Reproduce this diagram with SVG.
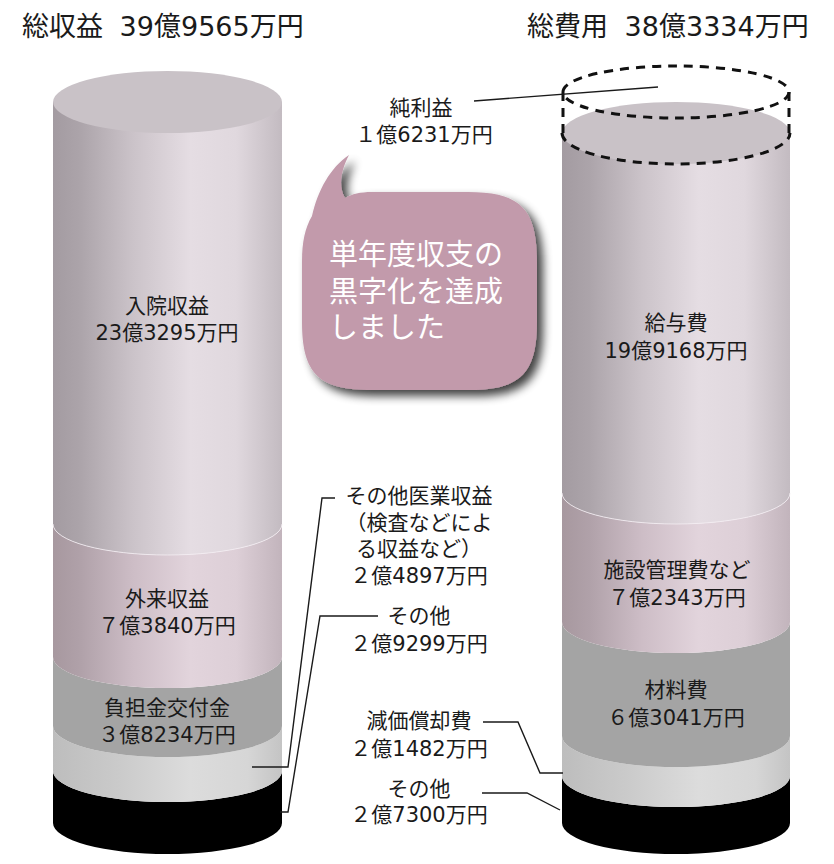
<svg xmlns="http://www.w3.org/2000/svg" width="834" height="864" viewBox="0 0 834 864">
<defs>
<style>
text{font-family:"DejaVu Sans","Noto Sans CJK JP",sans-serif;fill:#1a1a1a}
.t{font-size:27px}
.l{font-size:21px;text-anchor:middle}
.b{font-size:29px;fill:#ffffff;font-family:"Noto Sans CJK JP",sans-serif}
.lead{fill:none;stroke:#1a1a1a;stroke-width:1.4}
.dash{fill:none;stroke:#111;stroke-width:3;stroke-dasharray:9 7}
</style>
<linearGradient id="gA" x1="0" x2="1" y1="0" y2="0">
<stop offset="0" stop-color="#a39ba1"/><stop offset="0.12" stop-color="#aca4aa"/><stop offset="0.35" stop-color="#cbc3c9"/><stop offset="0.6" stop-color="#e5dde3"/><stop offset="0.8" stop-color="#e0d8de"/><stop offset="1" stop-color="#c3bbc1"/>
</linearGradient>
<linearGradient id="gB" x1="0" x2="1" y1="0" y2="0">
<stop offset="0" stop-color="#a7989f"/><stop offset="0.12" stop-color="#b0a1a9"/><stop offset="0.35" stop-color="#cdbdc6"/><stop offset="0.6" stop-color="#e2d4dc"/><stop offset="0.8" stop-color="#ddcfd7"/><stop offset="1" stop-color="#c2b4bc"/>
</linearGradient>
<linearGradient id="gL" x1="0" x2="1" y1="0" y2="0">
<stop offset="0" stop-color="#bdbdbd"/><stop offset="0.3" stop-color="#cbcbcb"/><stop offset="0.6" stop-color="#dcdcdc"/><stop offset="0.85" stop-color="#d6d6d6"/><stop offset="1" stop-color="#c4c4c4"/>
</linearGradient>
<filter id="sh" x="-20%" y="-20%" width="150%" height="150%">
<feGaussianBlur in="SourceAlpha" stdDeviation="5"/>
<feOffset dx="6" dy="6" result="o"/>
<feComponentTransfer><feFuncA type="linear" slope="0.75"/></feComponentTransfer>
<feMerge><feMergeNode/><feMergeNode in="SourceGraphic"/></feMerge>
</filter>
</defs>
<rect width="834" height="864" fill="#ffffff"/>

<text class="t" x="22" y="36">総収益 <tspan dx="8">39億9565万円</tspan></text>
<text class="t" x="527" y="36">総費用 <tspan dx="8">38億3334万円</tspan></text>

<g id="left-cylinder">
<path d="M53,771 A114.5,31 0 0 0 282,771 L282,823 A114.5,31 0 0 1 53,823 Z" fill="#000"/>
<path d="M53,726 A114.5,31 0 0 0 282,726 L282,771 A114.5,31 0 0 1 53,771 Z" fill="url(#gL)"/>
<path d="M53,657 A114.5,31 0 0 0 282,657 L282,726 A114.5,31 0 0 1 53,726 Z" fill="#a4a4a4"/>
<path d="M53,524 A114.5,31 0 0 0 282,524 L282,657 A114.5,31 0 0 1 53,657 Z" fill="url(#gB)"/>
<path d="M53,102 L282,102 L282,524 A114.5,31 0 0 1 53,524 Z" fill="url(#gA)"/>
<path d="M53,524 A114.5,31 0 0 0 282,524" fill="none" stroke="#f4eef2" stroke-width="1" opacity="0.8"/>
<ellipse cx="167.5" cy="102" rx="114.5" ry="31" fill="#c9c2c7"/>
</g>

<g id="right-cylinder">
<path d="M562,776 A114,31 0 0 0 790,776 L790,823 A114,31 0 0 1 562,823 Z" fill="#000"/>
<path d="M562,736 A114,31 0 0 0 790,736 L790,776 A114,31 0 0 1 562,776 Z" fill="url(#gL)"/>
<path d="M562,622 A114,31 0 0 0 790,622 L790,736 A114,31 0 0 1 562,736 Z" fill="#a4a4a4"/>
<path d="M562,493 A114,31 0 0 0 790,493 L790,622 A114,31 0 0 1 562,622 Z" fill="url(#gB)"/>
<path d="M562,133 L790,133 L790,493 A114,31 0 0 1 562,493 Z" fill="url(#gA)"/>
<path d="M562,493 A114,31 0 0 0 790,493" fill="none" stroke="#f4eef2" stroke-width="1" opacity="0.8"/>
<ellipse cx="676" cy="133" rx="114" ry="31" fill="#c9c2c7"/>
</g>

<g id="net-profit-outline">
<ellipse class="dash" cx="676" cy="92" rx="113" ry="26"/>
<line class="dash" x1="563" y1="92" x2="563" y2="133"/>
<line class="dash" x1="789" y1="92" x2="789" y2="133"/>
<path class="dash" d="M562,133 A114,31 0 0 0 790,133"/>
</g>

<g id="bubble">
<path d="M345,198 C352,194 360,192 372,192 L468,192 C520,192 537,208 537,262 L537,322 C537,374 520,390 468,390 L372,390 C319,390 302,374 302,322 L302,262 C302,242 305,228 312,216 C318,190 330,168 349,155 C341,170 338,186 345,198 Z" fill="#c29aab" filter="url(#sh)"/>
<text class="b" x="329" y="265">単年度収支の</text>
<text class="b" x="329" y="302">黒字化を達成</text>
<text class="b" x="329" y="338">しました</text>
</g>

<g id="connectors">
<polyline class="lead" points="335,498 322,498 288,767 252,767"/>
<polyline class="lead" points="378,616 320,616 288,812 280,812"/>
<line class="lead" x1="474" y1="101" x2="658" y2="87"/>
<polyline class="lead" points="483,722 518,722 540,773 563,773"/>
<polyline class="lead" points="482,793 527,793 560,810"/>
</g>

<g id="label-nyuin"><text class="l" x="167" y="313">入院収益</text><text class="l" x="167" y="340">23億3295万円</text></g>
<g id="label-gairai"><text class="l" x="167" y="606">外来収益</text><text class="l" x="167" y="633">７億3840万円</text></g>
<g id="label-futan"><text class="l" x="167" y="715">負担金交付金</text><text class="l" x="167" y="742">３億8234万円</text></g>
<g id="label-sonota-iryo"><text class="l" x="419" y="503">その他医業収益</text><text class="l" x="419" y="530">（検査などによ</text><text class="l" x="419" y="556">る収益など）</text><text class="l" x="419" y="583">２億4897万円</text></g>
<g id="label-sonota-l"><text class="l" x="419" y="623">その他</text><text class="l" x="419" y="651">２億9299万円</text></g>
<g id="label-junrieki"><text class="l" x="421" y="115">純利益</text><text class="l" x="424" y="142">１億6231万円</text></g>
<g id="label-kyuyo"><text class="l" x="676" y="330">給与費</text><text class="l" x="676" y="358">19億9168万円</text></g>
<g id="label-shisetsu"><text class="l" x="677" y="577">施設管理費など</text><text class="l" x="677" y="605">７億2343万円</text></g>
<g id="label-zairyo"><text class="l" x="676" y="697">材料費</text><text class="l" x="676" y="725">６億3041万円</text></g>
<g id="label-genka"><text class="l" x="419" y="728">減価償却費</text><text class="l" x="419" y="756">２億1482万円</text></g>
<g id="label-sonota-r"><text class="l" x="419" y="796">その他</text><text class="l" x="419" y="822">２億7300万円</text></g>
</svg>
